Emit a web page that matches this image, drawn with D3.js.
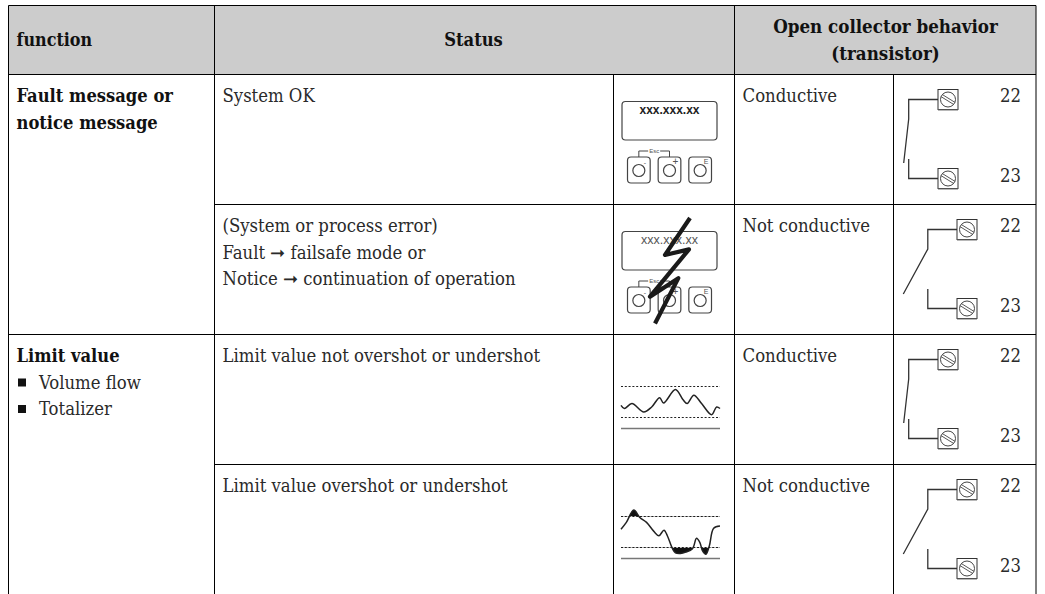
<!DOCTYPE html>
<html><head><meta charset="utf-8">
<script src="https://cdn.jsdelivr.net/npm/d3@7/dist/d3.min.js"></script>
<style>html,body{margin:0;background:#fff}svg{display:block}
text{font-family:"DejaVu Serif Condensed","DejaVu Serif",serif;fill:#222}</style>
</head><body><svg id="c" width="1045" height="594"></svg>
<script>
const headers = ["function", "Status", "Open collector behavior", "(transistor)"];
const functionLines = [["Fault message or", "notice message"], ["Limit value"]];
const bullets = ["Volume flow", "Totalizer"];
const statusLines = [["System OK"],
  ["(System or process error)", "Fault ➞ failsafe mode or", "Notice ➞ continuation of operation"],
  ["Limit value not overshot or undershot"],
  ["Limit value overshot or undershot"]];
const behaviours = ["Conductive", "Not conductive", "Conductive", "Not conductive"];
const terminals = ["22", "23"];
const displayText = "xxx.xxx.xx";
const buttonMarks = ["-", "+", "E"];
const waveT = [0,3.4,11,23,31,39,43,55,62.7,66.8,73.6,81.4,91.5,96.6,100];
const waveOk = [.39,.29,.45,.18,.34,.64,.47,.90,.57,.45,.72,.45,.09,.34,.29];
const waveT2 = [0,5.4,12.9,19,25.8,33.2,38.3,43.4,46.8,51.9,55,60,65.4,72.2,76.3,79.7,82.4,85.8,89.2,93.6,100];
const waveOver = [.59,.81,1.21,.97,.81,.52,.38,.56,.38,-.03,-.17,-.19,-.15,-.04,.30,.16,-.11,-.22,.05,.62,.69];

const svg = d3.select("#c");
const colX = [8.5, 214.5, 613.5, 734.5, 893.5, 1036];
const rowY = [5.5, 74.5, 204.5, 334.5, 464.5, 594];
const ink = "#2a2a2a";

svg.append("rect").attr("x",colX[0]).attr("y",rowY[0]).attr("width",colX[5]-colX[0]).attr("height",rowY[1]-rowY[0]).attr("fill","#cccccc");
const rule = (x1,y1,x2,y2)=>svg.append("line").attr("x1",x1).attr("y1",y1).attr("x2",x2).attr("y2",y2).attr("stroke","#000").attr("stroke-width",1);
rule(colX[0],rowY[0],colX[5],rowY[0]);
rule(colX[0],rowY[1],colX[5],rowY[1]);
rule(colX[1],rowY[2],colX[5],rowY[2]);
rule(colX[0],rowY[3],colX[5],rowY[3]);
rule(colX[1],rowY[4],colX[5],rowY[4]);
[0,1,3,5].forEach(i=>rule(colX[i],rowY[0],colX[i],rowY[5]));
[2,4].forEach(i=>rule(colX[i],rowY[1],colX[i],rowY[5]));

const FS = 18.35, BFS = 18.2;
const T = (s,x,y,o={})=>svg.append("text").attr("x",x).attr("y",y).attr("font-size",o.fs||FS)
  .attr("font-weight",o.b?"bold":"normal").attr("text-anchor",o.a||"start").style("fill",o.c||(o.b?"#111":ink))
  .style("font-family",o.ff||null).text(s);

T(headers[0],16.5,45.5,{b:1,fs:17.8});
T(headers[1],473.5,45.5,{b:1,fs:BFS,a:"middle"});
T(headers[2],885.5,33,{b:1,fs:18.6,a:"middle"});
T(headers[3],885.5,60,{b:1,fs:18.6,a:"middle"});

functionLines[0].forEach((s,i)=>T(s,16.5,rowY[1]+27.5+i*26.5,{b:1,fs:BFS}));
T(functionLines[1][0],16.5,rowY[3]+27.5,{b:1,fs:BFS});
bullets.forEach((s,i)=>{
  const y = rowY[3]+27.5+(i+1)*26.5;
  svg.append("rect").attr("x",18).attr("y",y-10).attr("width",8).attr("height",8).attr("fill","#111");
  T(s,39,y);
});
const rowTops = [rowY[1],rowY[2],rowY[3],rowY[4]];
statusLines.forEach((ls,r)=>ls.forEach((s,i)=>T(s,222.5,rowTops[r]+27.5+i*26.5)));
behaviours.forEach((s,r)=>T(s,742.5,rowTops[r]+27.5));

// device icon
function device(top, dim){
  const g = svg.append("g").attr("transform",`translate(0,${top})`).attr("fill","none").attr("stroke","#444").attr("stroke-width",1.2);
  g.append("rect").attr("x",622).attr("y",27).attr("width",95).attr("height",38.5).attr("rx",3.5);
  g.append("text").attr("x",669.5).attr("y",39.5).attr("text-anchor","middle").attr("stroke","none")
    .style("font-family","Liberation Sans").style("font-weight",dim?"normal":"bold").style("font-size",dim?"12.5px":"12px").style("fill",dim?"#555":"#222").text(displayText);
  const xs = d3.scaleBand().domain(buttonMarks).range([627.5,711.5]).paddingInner(.26);
  buttonMarks.forEach(m=>{
    const x = xs(m), w = xs.bandwidth();
    g.append("rect").attr("x",x).attr("y",82.5).attr("width",w).attr("height",26).attr("rx",3.5);
    g.append("circle").attr("cx",x+w/2).attr("cy",96).attr("r",6);
    g.append("text").attr("x",x+w/2+6).attr("y",m==="E"?89:90).attr("text-anchor","middle").attr("stroke","none")
      .style("font-family","Liberation Sans").style("font-size",m==="+"?"10px":"7px").style("fill","#555").text(m);
  });
  const a = xs("-")+xs.bandwidth()/2, b = xs("+")+xs.bandwidth()/2;
  g.append("path").attr("stroke-width",1).attr("d",`M${a},82.5V76.5H${(a+b)/2-6}M${(a+b)/2+6},76.5H${b}V82.5`);
  g.append("text").attr("x",(a+b)/2).attr("y",78.5).attr("text-anchor","middle").attr("stroke","none")
    .style("font-family","Liberation Sans").style("font-size","6px").style("fill","#555").text("Esc");
}
device(rowTops[0],false); device(rowTops[1],true);

// lightning bolt over second device
const boltX = d3.scaleLinear().domain([0,100]).range([650,690]);
const boltY = d3.scaleLinear().domain([0,100]).range([218,323.5]);
const boltPtsX = [100,37.5,97.5,0,70.8,12.5];
const boltPtsY = [0,35,29.7,74.6,57,100];
svg.append("path").attr("fill","none").attr("stroke","#1a1a1a").attr("stroke-width",4.2).attr("stroke-linejoin","round")
  .attr("d",d3.line().x((d,i)=>boltX(boltPtsX[i])).y((d,i)=>boltY(boltPtsY[i]))(boltPtsX));

// waves
const waveX = d3.scaleLinear().domain([0,100]).range([621,720]);
function wave(top, ts, vs, id){
  const y = d3.scaleLinear().domain([0,1]).range([top+83,top+52]);
  const pts = ts.map((t,i)=>[t,vs[i]]);
  const g = svg.append("g");
  [0,1].forEach(l=>g.append("line").attr("x1",waveX(0)).attr("x2",waveX(100)).attr("y1",y(l)).attr("y2",y(l))
    .attr("stroke","#222").attr("stroke-width",1).attr("stroke-dasharray","2 1.8"));
  g.append("line").attr("x1",waveX(0)).attr("x2",waveX(100)).attr("y1",top+94).attr("y2",top+94).attr("stroke","#777").attr("stroke-width",1.6);
  if(id){
    const defs = svg.append("defs");
    defs.append("clipPath").attr("id","hi").append("rect").attr("x",waveX(0)).attr("y",top).attr("width",100).attr("height",y(1)-top);
    defs.append("clipPath").attr("id","lo").append("rect").attr("x",waveX(0)).attr("y",y(0)).attr("width",100).attr("height",40);
    [[1,"hi"],[0,"lo"]].forEach(([l,c])=>g.append("path").attr("clip-path",`url(#${c})`).attr("fill","#111")
      .attr("d",d3.area().x(d=>waveX(d[0])).y0(y(l)).y1(d=>y(d[1])).curve(d3.curveCatmullRom)(pts)));
  }
  g.append("path").attr("fill","none").attr("stroke","#222").attr("stroke-width",1.5)
    .attr("d",d3.line().x(d=>waveX(d[0])).y(d=>y(d[1])).curve(d3.curveCatmullRom)(pts));
}
wave(rowTops[2],waveT,waveOk,false);
wave(rowTops[3],waveT2,waveOver,true);

// switch
function screw(g,x,y){
  g.append("rect").attr("x",x).attr("y",y).attr("width",20).attr("height",20).attr("fill","#fff").attr("stroke","#333").attr("stroke-width",1);
  g.append("line").attr("x1",x).attr("x2",x+20).attr("y1",y+20.7).attr("y2",y+20.7).attr("stroke","#999");
  g.append("circle").attr("cx",x+10).attr("cy",y+10).attr("r",7.5).attr("fill","none").attr("stroke","#444");
  const d=6.4;
  [-1,1].forEach(s=>g.append("line").attr("x1",x+10-d+s*.7).attr("y1",y+10-d*.62-s*1).attr("x2",x+10+d+s*.7).attr("y2",y+10+d*.62-s*1).attr("stroke","#444").attr("stroke-width",.9));
}
function sw(top, open){
  const g = svg.append("g").attr("transform",`translate(0,${top})`);
  const xw = open?927.8:908.7, xb = open?957:938, xe = open?903.3:903.7;
  g.append("path").attr("fill","none").attr("stroke","#333").attr("stroke-width",1.3)
    .attr("d",`M${xb},25H${xw}V44.5L${xe},${open?89.5:88.5}M${xw},84.5V104H${xb}`);
  screw(g,xb,15); screw(g,xb,94);
  T(terminals[0],1010.5,top+27.5,{a:"middle"});
  T(terminals[1],1010.5,top+107.5,{a:"middle"});
}
[false,true,false,true].forEach((o,r)=>sw(rowTops[r],o));
</script></body></html>
